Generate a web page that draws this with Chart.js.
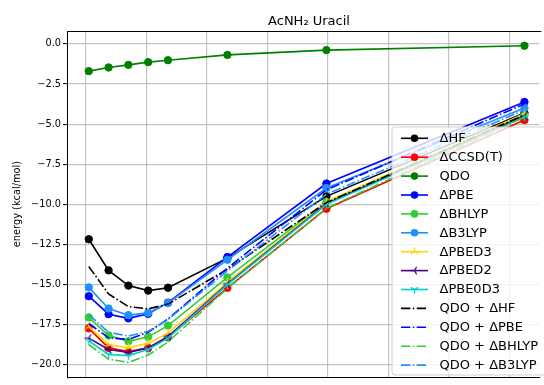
<!DOCTYPE html>
<html>
<head>
<meta charset="utf-8">
<title>AcNH2 Uracil</title>
<script src="https://cdn.jsdelivr.net/npm/chart.js@4.4.1/dist/chart.umd.min.js"></script>
<style>
  html, body { margin: 0; padding: 0; background: #ffffff; overflow: hidden; }
  #wrap { width: 544px; height: 385px; }
</style>
</head>
<body>
<div id="wrap"><canvas id="chart" width="544" height="385"></canvas></div>
<script>
// S66x8 distance scale factors (fraction of the equilibrium separation)
const scaleFactors = [0.90, 0.95, 1.00, 1.05, 1.10, 1.25, 1.50, 2.00];

// interaction energies, kcal/mol
const dHF       = [-12.17, -14.11, -15.06, -15.37, -15.19, -13.35, -9.50, -4.30];
const dCCSDT    = [-17.72, -18.94, -19.17, -18.94, -18.28, -15.20, -10.27, -4.75];
const qdo       = [-1.70, -1.47, -1.31, -1.14, -1.02, -0.69, -0.39, -0.12];
const dPBE      = [-15.72, -16.84, -17.10, -16.82, -16.12, -13.28, -8.70, -3.62];
const dBHLYP    = [-17.04, -18.17, -18.53, -18.25, -17.55, -14.55, -9.85, -4.45];
const dB3LYP    = [-15.17, -16.49, -16.90, -16.76, -16.15, -13.45, -8.98, -4.00];
const dPBED3    = [-17.62, -18.74, -18.92, -18.65, -18.02, -14.85, -9.85, -4.35];
const dPBED2    = [-18.33, -19.04, -19.22, -18.94, -18.23, -14.95, -9.95, -4.50];
const dPBE0D3   = [-18.51, -19.35, -19.42, -19.04, -18.33, -15.00, -10.00, -4.55];
const qdoHF     = [-13.87, -15.58, -16.37, -16.51, -16.21, -14.04, -9.89, -4.42];
const qdoPBE    = [-17.42, -18.31, -18.41, -17.96, -17.14, -13.97, -9.09, -3.74];
const qdoBHLYP  = [-18.74, -19.64, -19.84, -19.39, -18.57, -15.24, -10.24, -4.57];
const qdoB3LYP  = [-16.87, -17.96, -18.21, -17.90, -17.17, -14.14, -9.37, -4.12];

// axis ticks
const yTickValues = [0, -2.5, -5, -7.5, -10, -12.5, -15, -17.5, -20];
const xGridValues = [0.8925, 1.0453, 1.198, 1.3508, 1.5035, 1.6563, 1.809, 1.9618];

const titleText = 'AcNH\u2082 Uracil';
const yAxisLabel = 'energy (kcal/mol)';

const FONT = '"DejaVu Sans", "Liberation Sans", sans-serif';
const DASHDOT = [9.4, 2.4, 1.5, 2.4];

// three-spoke markers (like matplotlib's tri markers)
function triMarker(color, angles) {
  const c = document.createElement('canvas');
  c.width = 11; c.height = 11;
  const g = c.getContext('2d');
  g.strokeStyle = color;
  g.lineWidth = 1.3;
  g.lineCap = 'butt';
  angles.forEach(a => {
    const r = a * Math.PI / 180;
    g.beginPath();
    g.moveTo(5.5, 5.5);
    g.lineTo(5.5 + 4.3 * Math.cos(r), 5.5 + 4.3 * Math.sin(r));
    g.stroke();
  });
  return c;
}
const triUp = triMarker('#ffd700', [-90, 30, 150]);
const triLeft = triMarker('#4b0082', [180, -60, 60]);
const triDown = triMarker('#00ced1', [90, 210, 330]);

const seriesList = [
  { label: '\u0394HF',            data: dHF,      color: '#000000', marker: 'circle' },
  { label: '\u0394CCSD(T)',       data: dCCSDT,   color: '#ff0000', marker: 'circle' },
  { label: 'QDO',                 data: qdo,      color: '#008000', marker: 'circle' },
  { label: '\u0394PBE',           data: dPBE,     color: '#0000ff', marker: 'circle' },
  { label: '\u0394BHLYP',         data: dBHLYP,   color: '#32cd32', marker: 'circle' },
  { label: '\u0394B3LYP',         data: dB3LYP,   color: '#1e90ff', marker: 'circle' },
  { label: '\u0394PBED3',         data: dPBED3,   color: '#ffd700', marker: triUp },
  { label: '\u0394PBED2',         data: dPBED2,   color: '#4b0082', marker: triLeft },
  { label: '\u0394PBE0D3',        data: dPBE0D3,  color: '#00ced1', marker: triDown },
  { label: 'QDO + \u0394HF',      data: qdoHF,    color: '#000000', marker: null },
  { label: 'QDO + \u0394PBE',     data: qdoPBE,   color: '#0000ff', marker: null },
  { label: 'QDO + \u0394BHLYP',   data: qdoBHLYP, color: '#32cd32', marker: null },
  { label: 'QDO + \u0394B3LYP',   data: qdoB3LYP, color: '#1e90ff', marker: null }
];

const datasets = seriesList.map((s, i) => ({
  label: s.label,
  data: scaleFactors.map((x, k) => ({ x: x, y: s.data[k] })),
  borderColor: s.color,
  backgroundColor: s.color,
  borderWidth: 1.6,
  borderDash: s.marker === null ? DASHDOT : [],
  pointStyle: s.marker === null ? 'circle' : s.marker,
  pointRadius: s.marker === null ? 0 : 3.7,
  pointBorderWidth: 1,
  pointBorderColor: s.color,
  pointBackgroundColor: s.color,
  pointHoverRadius: s.marker === null ? 0 : 3.7,
  tension: 0,
  fill: false,
  order: seriesList.length - i
}));

// frame, title, axis label and the legend box
const decorations = {
  id: 'decorations',
  afterDraw(chart) {
    const { ctx, chartArea } = chart;
    ctx.save();
    // top spine
    ctx.strokeStyle = '#000000';
    ctx.lineWidth = 1;
    ctx.beginPath();
    ctx.moveTo(chartArea.left, Math.round(chartArea.top) + 0.5);
    ctx.lineTo(chartArea.right + 2, Math.round(chartArea.top) + 0.5);
    ctx.stroke();

    // title
    ctx.fillStyle = '#000000';
    ctx.font = '13px ' + FONT;
    ctx.textAlign = 'center';
    ctx.textBaseline = 'alphabetic';
    ctx.fillText(titleText, 309, 25);

    // y axis label
    ctx.save();
    ctx.translate(17.5, (chartArea.top + chartArea.bottom) / 2);
    ctx.rotate(-Math.PI / 2);
    ctx.font = '9.8px ' + FONT;
    ctx.textAlign = 'center';
    ctx.textBaseline = 'middle';
    ctx.fillText(yAxisLabel, 0, 0);
    ctx.restore();

    // legend
    const bx = 392, by = 127, bw = 200, bh = 248, rr = 3;
    ctx.beginPath();
    ctx.moveTo(bx + rr, by);
    ctx.lineTo(bx + bw - rr, by);
    ctx.arcTo(bx + bw, by, bx + bw, by + rr, rr);
    ctx.lineTo(bx + bw, by + bh - rr);
    ctx.arcTo(bx + bw, by + bh, bx + bw - rr, by + bh, rr);
    ctx.lineTo(bx + rr, by + bh);
    ctx.arcTo(bx, by + bh, bx, by + bh - rr, rr);
    ctx.lineTo(bx, by + rr);
    ctx.arcTo(bx, by, bx + rr, by, rr);
    ctx.closePath();
    ctx.fillStyle = 'rgba(255,255,255,0.8)';
    ctx.fill();
    ctx.strokeStyle = 'rgba(204,204,204,0.9)';
    ctx.lineWidth = 1;
    ctx.stroke();

    chart.data.datasets.forEach((ds, i) => {
      const y = 138.3 + 18.9 * i;
      ctx.strokeStyle = ds.borderColor;
      ctx.lineWidth = 1.6;
      ctx.setLineDash(ds.borderDash || []);
      ctx.beginPath();
      ctx.moveTo(401, y);
      ctx.lineTo(428, y);
      ctx.stroke();
      ctx.setLineDash([]);
      if (ds.pointRadius > 0) {
        if (ds.pointStyle === 'circle') {
          ctx.fillStyle = ds.pointBackgroundColor;
          ctx.beginPath();
          ctx.arc(414.5, y, 3.8, 0, Math.PI * 2);
          ctx.fill();
        } else {
          const img = ds.pointStyle;
          ctx.drawImage(img, 414.5 - img.width / 2, y - img.height / 2);
        }
      }
      ctx.fillStyle = '#000000';
      ctx.font = '13px ' + FONT;
      ctx.textAlign = 'left';
      ctx.textBaseline = 'middle';
      ctx.fillText(ds.label, 439.5, y + 0.5);
    });
    ctx.restore();
  }
};

new Chart(document.getElementById('chart'), {
  type: 'line',
  data: { datasets: datasets },
  options: {
    responsive: false,
    devicePixelRatio: 1,
    animation: false,
    events: [],
    layout: { padding: { top: 31, left: 0, right: 0, bottom: 0 } },
    plugins: {
      legend: { display: false },
      title: { display: false },
      tooltip: { enabled: false }
    },
    scales: {
      x: {
        type: 'linear',
        min: 0.845,
        max: 2.0375,
        afterBuildTicks: (scale) => { scale.ticks = xGridValues.map(v => ({ value: v })); },
        afterFit: (scale) => { scale.height = 2; },
        ticks: { display: false },
        grid: { color: 'rgba(176,176,176,0.75)', lineWidth: 1.2, drawTicks: false },
        border: { display: true, color: '#000000', width: 1 }
      },
      y: {
        type: 'linear',
        min: -20.76,
        max: 0.80,
        afterBuildTicks: (scale) => { scale.ticks = yTickValues.map(v => ({ value: v })); },
        afterFit: (scale) => { scale.width = 67; },
        ticks: {
          padding: 2,
          color: '#000000',
          font: { family: FONT, size: 9.8 },
          callback: (v) => (v < 0 ? '\u2212' + Math.abs(v).toFixed(1) : v.toFixed(1))
        },
        grid: {
          color: 'rgba(176,176,176,0.75)',
          lineWidth: 1.2,
          drawTicks: true,
          tickLength: 4,
          tickColor: '#000000',
          tickWidth: 1
        },
        border: { display: true, color: '#000000', width: 1 }
      }
    }
  },
  plugins: [decorations]
});
</script>
</body>
</html>
